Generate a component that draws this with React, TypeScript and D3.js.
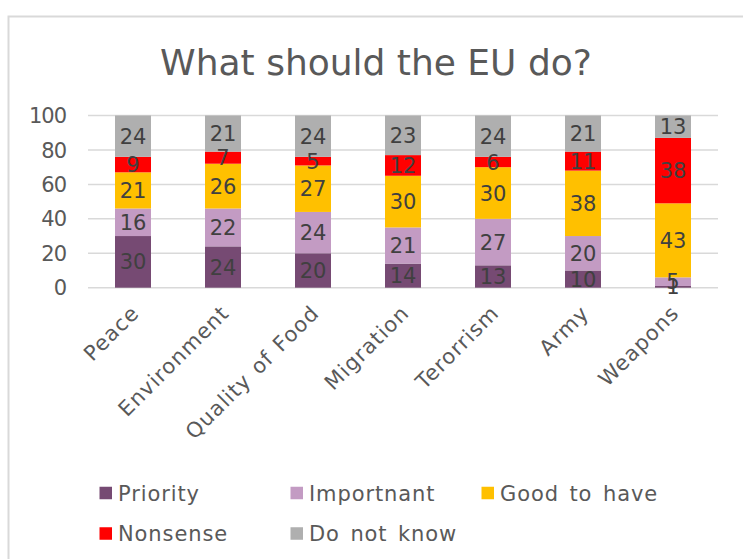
import React from "react";
import * as d3 from "d3";

const categories = ["Peace", "Environment", "Quality of Food", "Migration", "Terorrism", "Army", "Weapons"];
const seriesNames = ["Priority", "Importnant", "Good to have", "Nonsense", "Do not know"];
const priority = [30, 24, 20, 14, 13, 10, 1];
const important = [16, 22, 24, 21, 27, 20, 5];
const goodToHave = [21, 26, 27, 30, 30, 38, 43];
const nonsense = [9, 7, 5, 12, 6, 11, 38];
const doNotKnow = [24, 21, 24, 23, 24, 21, 13];
const yTicks = [0, 20, 40, 60, 80, 100];
const colors = ["#764A73", "#C39BC3", "#FFC000", "#FF0000", "#AFAFAF"];

const W = 743;
const H = 559;
const FONT = "'DejaVu Sans', sans-serif";

export default function App() {
  const seriesValues = [priority, important, goodToHave, nonsense, doNotKnow];
  const rows = categories.map((c, i) => {
    const r: any = { cat: c };
    seriesNames.forEach((s, k) => (r[s] = seriesValues[k][i]));
    return r;
  });
  const stacked = d3.stack<any>().keys(seriesNames)(rows);

  const x = d3.scaleBand().domain(categories).range([88, 718]).paddingInner(0.6).paddingOuter(0.3);
  const y = d3.scaleLinear().domain([0, 100]).range([287.7, 115.5]);

  const legendPos = [
    [99.5, 493],
    [290.5, 493],
    [481.5, 493],
    [99.5, 533.5],
    [290.5, 533.5],
  ];

  return (
    <svg width={W} height={H} style={{ position: "absolute", left: 0, top: 0 }} fontFamily={FONT}>
      <rect x={0} y={0} width={W} height={H} fill="#fff" />
      <path d={`M8.5,${H + 5} V16.5 H${W + 5}`} fill="none" stroke="#D9D9D9" strokeWidth={2} />
      <text x={376} y={75} textAnchor="middle" fontSize={36} fill="#595959">
        What should the EU do?
      </text>
      {yTicks.map((t) => (
        <g key={t}>
          <line x1={88} x2={718} y1={y(t)} y2={y(t)} stroke="#D9D9D9" strokeWidth={1.5} />
          <text x={66} y={y(t)} dy="0.36em" textAnchor="end" fontSize={21} letterSpacing={-1} fill="#595959">
            {t}
          </text>
        </g>
      ))}
      {stacked.map((s, k) => (
        <g key={s.key} fill={colors[k]}>
          {s.map((d, i) => (
            <rect
              key={i}
              x={x(categories[i])}
              width={x.bandwidth()}
              y={y(d[1])}
              height={y(d[0]) - y(d[1])}
            />
          ))}
        </g>
      ))}
      {stacked.map((s, k) => (
        <g key={"l" + s.key}>
          {s.map((d, i) => (
            <text
              key={i}
              x={(x(categories[i]) as number) + x.bandwidth() / 2}
              y={(y(d[0]) + y(d[1])) / 2}
              dy="0.36em"
              textAnchor="middle"
              fontSize={21}
              fill="#404040"
            >
              {d[1] - d[0]}
            </text>
          ))}
        </g>
      ))}
      {categories.map((c) => {
        const cx = (x(c) as number) + x.bandwidth() / 2 + 2;
        const cy = 309;
        return (
          <text
            key={c}
            transform={`translate(${cx},${cy}) rotate(-45)`}
            textAnchor="end"
            fontSize={21}
            letterSpacing={1.1}
            wordSpacing={1.5}
            fill="#595959"
            dy="0.36em"
          >
            {c}
          </text>
        );
      })}
      {seriesNames.map((s, k) => (
        <g key={"lg" + s} transform={`translate(${legendPos[k][0]},${legendPos[k][1]})`}>
          <rect x={0} y={-6.25} width={12.5} height={12.5} fill={colors[k]} />
          <text x={18.5} y={0} dy="0.36em" fontSize={21} letterSpacing={0.9} wordSpacing={3} fill="#595959">
            {s}
          </text>
        </g>
      ))}
    </svg>
  );
}
